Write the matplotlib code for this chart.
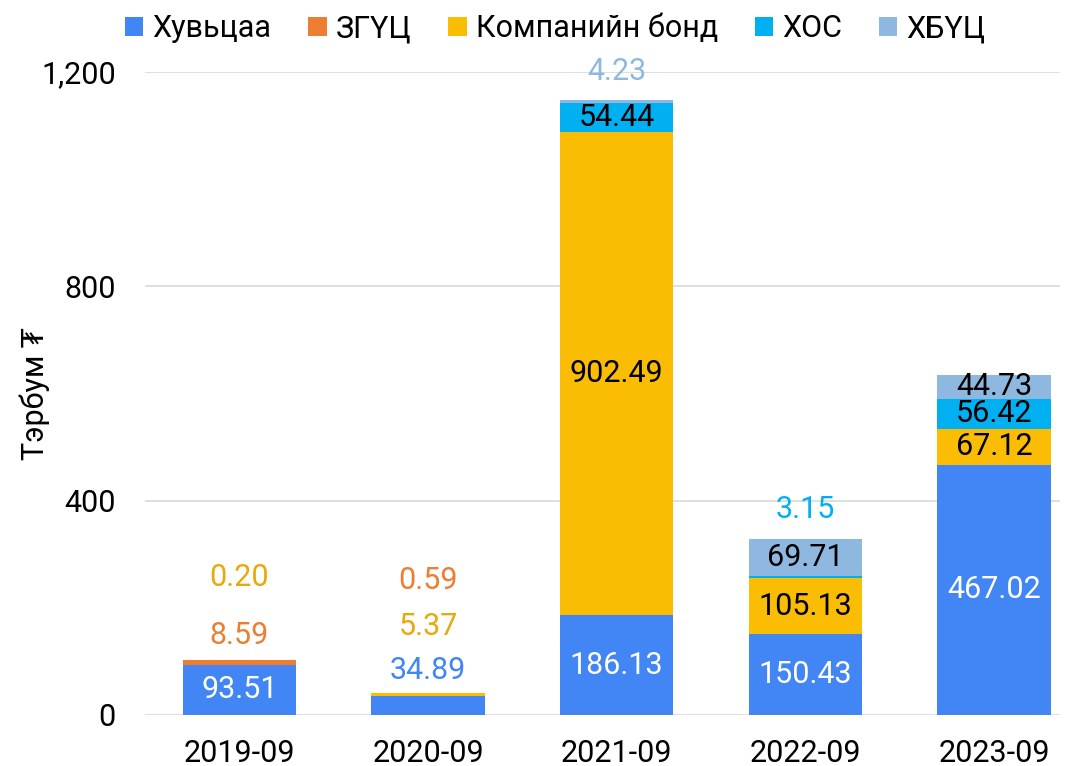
import numpy as np
import matplotlib.pyplot as plt

plt.rcParams['font.family'] = ['Roboto', 'DejaVu Sans']

# data
periods = ["2019-09", "2020-09", "2021-09", "2022-09", "2023-09"]
series = ["Хувьцаа", "ЗГҮЦ", "Компанийн бонд", "ХОС", "ХБҮЦ"]
shares = [93.51, 34.89, 186.13, 150.43, 467.02]
gov_bonds = [8.59, 0.59, 0.0, 0.0, 0.0]
corp_bonds = [0.20, 5.37, 902.49, 105.13, 67.12]
abs_sec = [0.0, 0.0, 54.44, 3.15, 56.42]
mbs = [0.0, 0.0, 4.23, 69.71, 44.73]

colors = ["#4285F4", "#ED7D31", "#FBBC04", "#00B0F0", "#8FB8E0"]
out_colors = ["#4285F4", "#ED7D31", "#E8A90C", "#00B0F0", "#8FB8E0"]
inside_text = ["white", "black", "black", "black", "black"]

# which labels sit above the bar (series index, pixel offset above the bar top)
outside = {
    0: [(1, 25), (2, 83)],
    1: [(0, 23), (2, 67), (1, 113)],
    2: [(4, 29)],
    3: [(3, 30)],
    4: [],
}

values = np.array([shares, gov_bonds, corp_bonds, abs_sec, mbs])

fig = plt.figure(figsize=(10.74, 7.66), dpi=100)
ax = fig.add_axes([0.135, 0.0666, 0.852, 0.8394])

x = np.arange(len(periods))
bottom = np.zeros(len(periods))
for i, name in enumerate(series):
    ax.bar(x, values[i], 0.6, bottom=bottom, color=colors[i], label=name, zorder=3)
    bottom += values[i]

totals = values.sum(axis=0)
fs = 22
for j in range(len(periods)):
    out_idx = [s for s, _ in outside[j]]
    base = 0.0
    for i in range(len(series)):
        v = values[i, j]
        if v > 0 and i not in out_idx:
            ax.text(x[j], base + v / 2, f"{v:.2f}", ha="center", va="center",
                    color=inside_text[i], fontsize=fs, zorder=4)
        base += v
    for s, off in outside[j]:
        ax.annotate(f"{values[s, j]:.2f}", (x[j], totals[j]), xytext=(0, off),
                    textcoords="offset pixels", ha="center", va="center",
                    color=out_colors[s], fontsize=fs, zorder=4)

ax.set_ylim(0, 1200)
ax.set_xlim(-0.5, 4.35)
ax.set_yticks([0, 400, 800, 1200])
ax.set_yticklabels(["0", "400", "800", "1,200"])
ax.set_xticks(x)
ax.set_xticklabels(periods)
ax.tick_params(axis="both", length=0, labelsize=fs, colors="black")
ax.tick_params(axis="y", pad=21)
ax.tick_params(axis="x", pad=17)
ax.grid(axis="y", color="#D9D9D9", linewidth=1.2, zorder=0)
for sp in ax.spines.values():
    sp.set_visible(False)
ax.set_ylabel("Тэрбум ₮", fontsize=22)
ax.yaxis.label.set_va("center")
ax.yaxis.set_label_coords(-0.12, 0.5)

fig.legend(loc="upper center", bbox_to_anchor=(0.517, 1.018), ncol=5, frameon=False,
           fontsize=fs, handlelength=0.6, handleheight=0.6, handletextpad=0.3,
           columnspacing=1.2)

fig.savefig("out.png", dpi=100)
